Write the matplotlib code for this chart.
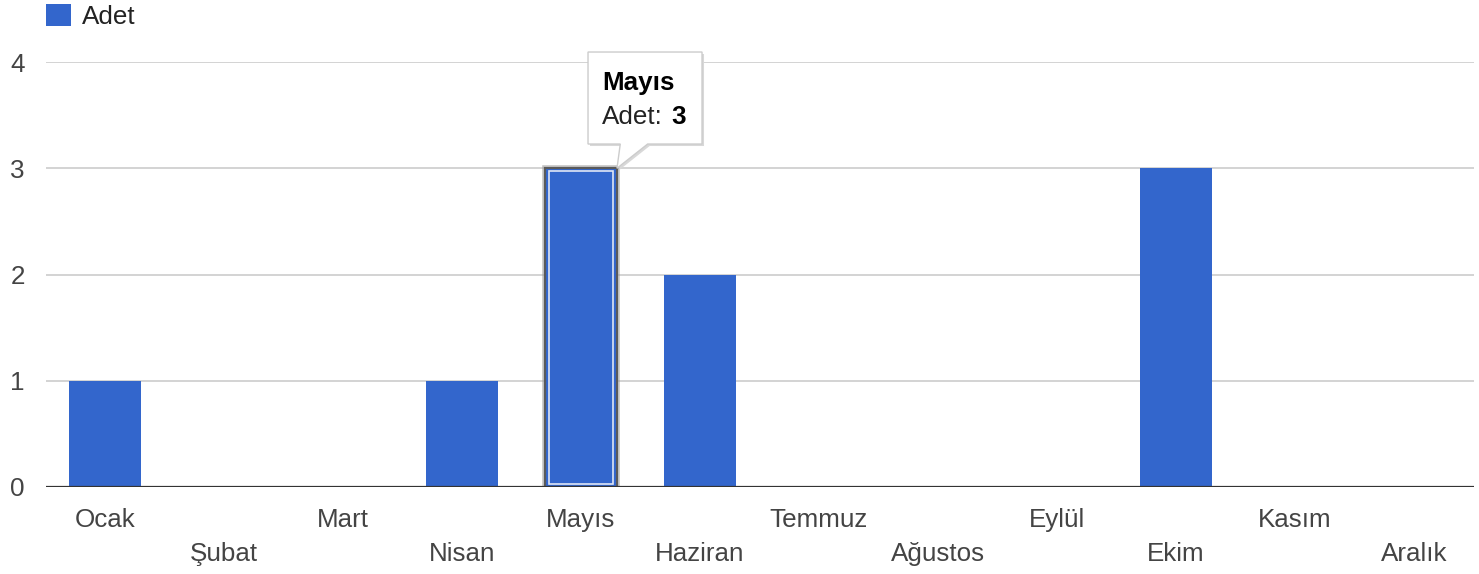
import matplotlib.pyplot as plt
from matplotlib.patches import Polygon, Rectangle
from matplotlib import transforms

plt.rcParams['font.family'] = ['Liberation Sans', 'DejaVu Sans']

months = ['Ocak', 'Şubat', 'Mart', 'Nisan', 'Mayıs', 'Haziran',
          'Temmuz', 'Ağustos', 'Eylül', 'Ekim', 'Kasım', 'Aralık']
counts = [1, 0, 0, 1, 3, 2, 0, 0, 0, 3, 0, 0]
series_name = 'Adet'
highlight = 4  # Mayıs, the hovered bar
y_ticks = [0, 1, 2, 3, 4]

blue = '#3366cc'
txt = '#444444'
fs = 18.7

fig = plt.figure(figsize=(14.79, 5.74), dpi=100)
ax = fig.add_axes([45.5 / 1479, 87 / 574, 1428 / 1479, 425 / 574])

x = list(range(len(months)))
bars = ax.bar(x, counts, width=0.605, color=blue, zorder=3)

# hovered bar: soft grey outline + inner light line
hb = bars[highlight]
ax.bar(highlight, counts[highlight], width=0.605, color=blue,
       edgecolor='#9a9a9a', linewidth=4, alpha=0.6, zorder=4)
ax.bar(highlight, counts[highlight], width=0.605, color=blue,
       edgecolor='#5a5a5a', linewidth=1.5, zorder=4)
ax.add_patch(Rectangle((hb.get_x() + 0.035, 0.03), hb.get_width() - 0.07,
                       counts[highlight] - 0.06, fill=False,
                       edgecolor='#dfe6f5', linewidth=1.2, zorder=5))

ax.set_xlim(-0.5, len(months) - 0.5)
ax.set_ylim(0, 4)
ax.set_yticks(y_ticks)
ax.set_yticklabels([str(v) for v in y_ticks], color=txt, fontsize=fs)
ax.tick_params(axis='y', length=0, pad=15)
ax.set_xticks([])
for s in ax.spines.values():
    s.set_visible(False)
ax.grid(axis='y', color='#cccccc', linewidth=1.2, zorder=0)
ax.axhline(0, color='#333333', linewidth=1.6, zorder=6)

# staggered month labels
xt = ax.get_xaxis_transform()
for i, m in enumerate(months):
    yy = -0.077 if i % 2 == 0 else -0.157
    ax.text(i, yy, m, transform=xt, ha='center', va='center',
            fontsize=fs, color=txt, clip_on=False)

# legend
ax.legend([bars], [series_name], loc='upper left',
          bbox_to_anchor=(46 / 1479, 1 - 4 / 574),
          bbox_transform=fig.transFigure, frameon=False, fontsize=fs,
          handlelength=0.95, handleheight=0.95, handletextpad=0.45,
          borderpad=0, borderaxespad=0, labelcolor='#222222')

# tooltip
top = counts[highlight]
tip_x = hb.get_x() + hb.get_width()
box = [(4.059, 4.094), (5.017, 4.094), (5.017, 3.228), (4.56, 3.228),
       (tip_x, top), (4.33, 3.228), (4.059, 3.228)]
shadow = transforms.offset_copy(ax.transData, fig=fig, x=2, y=-2, units='dots')
ax.add_patch(Polygon(box, closed=True, facecolor='#d8d8d8', edgecolor='none',
                     transform=shadow, clip_on=False, zorder=7))
ax.add_patch(Polygon(box, closed=True, facecolor='white', edgecolor='#cccccc',
                     linewidth=1, clip_on=False, zorder=8))
ax.text(4.18, 3.80, months[highlight], fontsize=fs, fontweight='bold',
        color='black', va='center', ha='left', zorder=9, clip_on=False)
ax.text(4.18, 3.48, series_name + ':', fontsize=fs, color='#222222',
        va='center', ha='left', zorder=9, clip_on=False)
ax.text(4.756, 3.48, str(top), fontsize=fs, fontweight='bold',
        color='black', va='center', ha='left', zorder=9, clip_on=False)

fig.savefig('out.png', dpi=100, facecolor='white')
